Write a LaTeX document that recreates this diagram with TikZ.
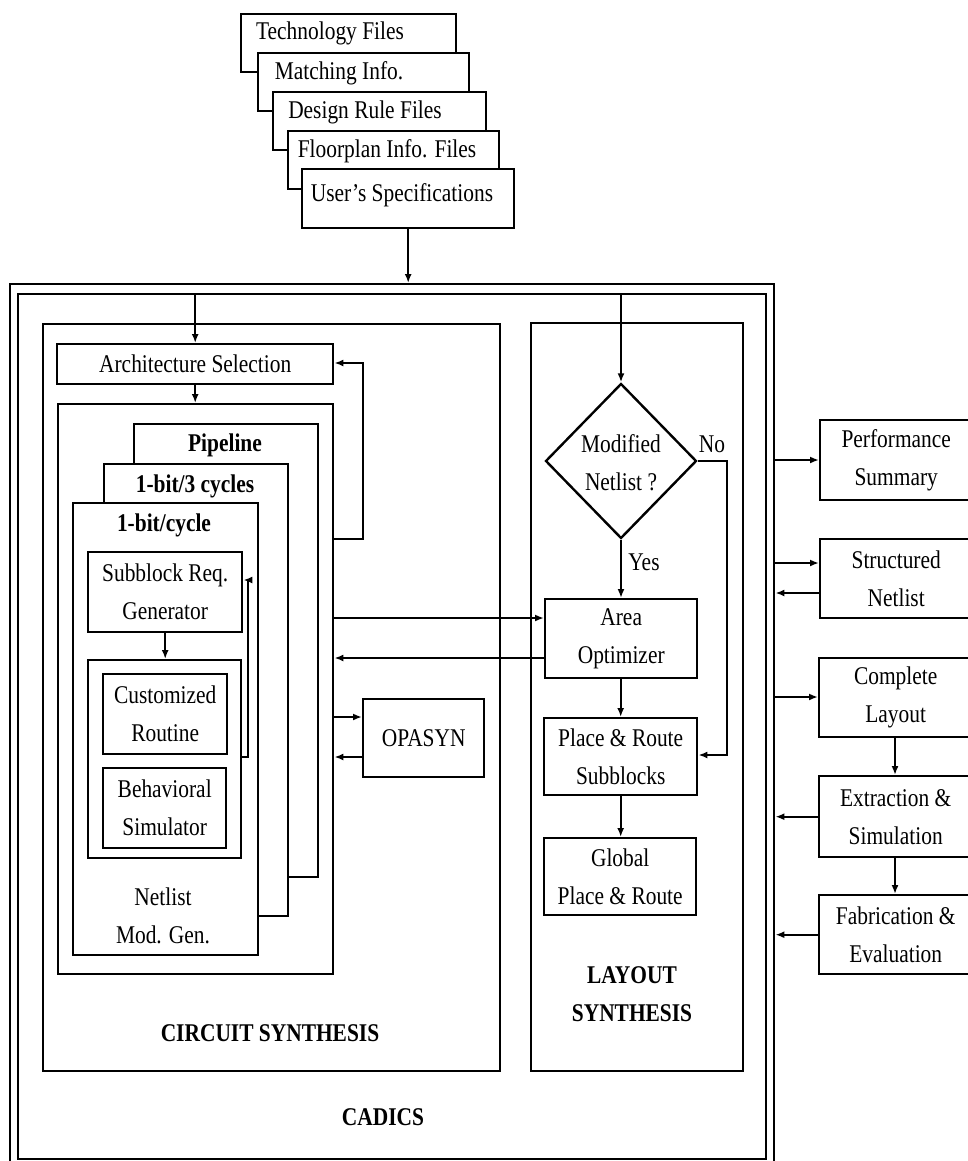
\documentclass[tikz,border=0pt]{standalone}
\usepackage{fontspec}
\setmainfont{Liberation Serif}[FakeStretch=0.84]
\usetikzlibrary{arrows.meta,shapes.geometric}

% rectangle node given by its corners: [options]{x1}{y1}{x2}{y2}{name}{text}
\newcommand{\rbox}[7][]{%
  \node[frame,anchor=north west,minimum width={#4-#2},minimum height={#5-#3},#1] (#6) at (#2,#3) {};
  \node[txt] (#6-t) at (#6.center) {#7};}

\begin{document}
\begin{tikzpicture}[x=1pt,y=-1pt,
  line width=2.4pt,
  txt/.style={font=\fontsize{25.5}{38}\selectfont,inner sep=0pt,align=center},
  hd/.style={font=\fontsize{25.5}{38}\selectfont\bfseries,inner sep=0pt,align=center},
  frame/.style={draw,rectangle,inner sep=0pt},
  sheet/.style={frame,fill=white},
  arr/.style={-{Latex[length=9pt,width=7pt]}}]
\useasboundingbox (0,0) rectangle (968,1161);
\clip (0,0) rectangle (968,1161);

% ---- input files, stacked sheets ----
\rbox[sheet]{240}{13}{455}{71}{tech}{}
\node[txt] (tech-l) at (330,33) {Technology Files};
\rbox[sheet]{257}{52}{468}{110}{match}{}
\node[txt] (match-l) at (339,73) {Matching Info.};
\rbox[sheet]{272}{91}{485}{149}{rule}{}
\node[txt] (rule-l) at (365,112) {Design Rule Files};
\rbox[sheet]{287}{130}{498}{188}{floor}{}
\node[txt] (floor-l) at (387,151) {Floorplan Info. Files};
\rbox[sheet]{301}{168}{513}{227}{user}{}
\node[txt] (user-l) at (402,195) {User's Specifications};

% ---- CADICS frame ----
\rbox{9}{283}{773}{1175}{outer}{}
\rbox{17}{293}{765}{1158}{inner}{}
\node[hd] (cadics) at (383,1117) {CADICS};
\draw[arr] (user.south) -- (user.south |- outer.north);

% ---- circuit synthesis ----
\rbox{42}{323}{499}{1070}{circ}{}
\node[hd] (circ-l) at (270,1033) {CIRCUIT SYNTHESIS};
\rbox{56}{343}{332}{383}{arch}{Architecture Selection}
\rbox{57}{403}{332}{973}{gen}{}
% stacked architecture sheets
\rbox[sheet]{133}{423}{317}{876}{pipe}{}
\node[hd] (pipe-l) at (225,445) {Pipeline};
\rbox[sheet]{103}{463}{287}{915}{three}{}
\node[hd] (three-l) at (195,486) {1-bit/3 cycles};
\rbox[sheet]{72}{502}{257}{954}{one}{}
\node[hd] (one-l) at (164,525) {1-bit/cycle};
\rbox{87}{551}{241}{631}{req}{Subblock Req.\\Generator}
\rbox{87}{659}{240}{857}{sim}{}
\rbox{102}{673}{226}{753}{cust}{Customized\\Routine}
\rbox{102}{767}{225}{847}{behav}{Behavioral\\Simulator}
\node[txt] (gen-l) at (163,916) {Netlist\\Mod. Gen.};
\rbox{362}{698}{483}{776}{opasyn}{OPASYN}

\draw[arr] (inner.north -| arch.north) -- (arch.north);
\draw[arr] (arch.south) -- (arch.south |- gen.north);
\draw[arr] (gen.east |- 0,539) -- (363,539) -- (363,363) -- (arch.east |- 0,363);
\draw[arr] (req.south) -- (req.south |- sim.north);
\draw[arr] (sim.east |- 0,757) -- (248,757) -- (248,580) -- (req.east |- 0,580);
\draw[arr] (gen.east |- 0,717) -- (opasyn.west |- 0,717);
\draw[arr] (opasyn.west |- 0,757) -- (gen.east |- 0,757);

% ---- layout synthesis ----
\rbox{530}{322}{742}{1070}{lay}{}
\node[hd] (lay-l) at (632,994) {LAYOUT\\SYNTHESIS};
\node[draw,diamond,inner sep=0pt,minimum width=151pt,minimum height=155pt] (dia) at (621,461) {};
\node[txt] (dia-t) at (621,463) {Modified\\Netlist ?};
\rbox{544}{598}{696}{677}{area}{Area\\Optimizer}
\rbox{543}{717}{696}{794}{pr}{Place \& Route\\Subblocks}
\rbox{543}{837}{695}{914}{glob}{Global\\Place \& Route}
\node[txt] (yes) at (644,562) {Yes};
\node[txt] (no) at (712,444) {No};

\draw[arr] (inner.north -| dia.north) -- (dia.north);
\draw[arr] (dia.south) -- (dia.south |- area.north);
\draw[arr] (dia.east) -- (727,461) -- (727,755) -- (pr.east |- 0,755);
\draw[arr] (area.south -| pr.north) -- (pr.north);
\draw[arr] (pr.south) -- (pr.south |- glob.north);
\draw[arr] (gen.east |- 0,618) -- (area.west |- 0,618);
\draw[arr] (area.west |- 0,658) -- (gen.east |- 0,658);

% ---- results ----
\rbox{819}{419}{971}{499}{perf}{Performance\\Summary}
\rbox{819}{538}{971}{617}{snet}{Structured\\Netlist}
\rbox{818}{657}{971}{736}{clay}{Complete\\Layout}
\rbox{818}{775}{971}{856}{ext}{Extraction \&\\Simulation}
\rbox{818}{894}{971}{973}{fab}{Fabrication \&\\Evaluation}

\draw[arr] (outer.east |- 0,460) -- (perf.west |- 0,460);
\draw[arr] (outer.east |- 0,563) -- (snet.west |- 0,563);
\draw[arr] (snet.west |- 0,593) -- (outer.east |- 0,593);
\draw[arr] (outer.east |- 0,697) -- (clay.west |- 0,697);
\draw[arr] (ext.west) -- (outer.east |- ext.west);
\draw[arr] (fab.west) -- (outer.east |- fab.west);
\draw[arr] (clay.south -| 895,0) -- (ext.north -| 895,0);
\draw[arr] (ext.south -| 895,0) -- (fab.north -| 895,0);
\end{tikzpicture}
\end{document}
